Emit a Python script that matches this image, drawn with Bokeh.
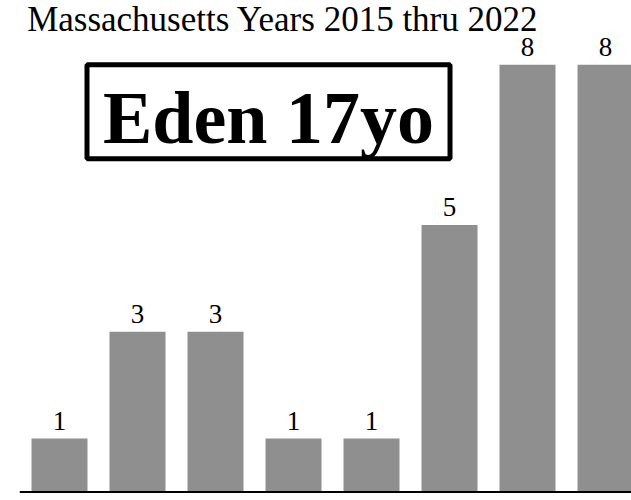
from bokeh.plotting import figure
from bokeh.models import Range1d, Span, Label, ColumnDataSource
from bokeh.core.properties import value
from bokeh.embed import file_html
from bokeh.resources import INLINE

years = ["2015", "2016", "2017", "2018", "2019", "2020", "2021", "2022"]
counts = [1, 3, 3, 1, 1, 5, 8, 8]
title_text = "Massachusetts Years 2015 thru 2022"
box_text = "Eden 17yo"

idx = list(range(len(years)))
src = ColumnDataSource(dict(x=idx, top=counts, lab=[str(c) for c in counts], year=years))

p = figure(width=631, height=500, output_backend="svg", toolbar_location=None,
           x_range=Range1d(-0.5128, 7.333), y_range=Range1d(-0.159, 9.204),
           min_border_left=19, min_border_right=0, min_border_top=0, min_border_bottom=0)
p.axis.visible = False
p.grid.visible = False
p.outline_line_color = None
p.background_fill_color = "white"

p.vbar(x="x", top="top", bottom=0, width=0.718, source=src,
       fill_color="#8f8f8f", line_color=None)

p.text(x="x", y="top", text="lab", source=src, text_align="center",
       text_baseline="alphabetic", y_offset=-18,
       text_font=value("Liberation Serif"), text_font_size="27px", text_color="black")

p.add_layout(Span(location=0, dimension="width", line_color="black", line_width=2))

p.add_layout(Label(x=-0.415, y=8.848, text=title_text, text_font="Liberation Serif",
                   text_font_size="35px", text_color="black", text_baseline="alphabetic"))

p.add_layout(Label(x=0.3526, y=7.119, text=box_text, text_font="Liberation Serif",
                   text_font_size="74px", text_font_style="bold", text_color="black",
                   text_baseline="alphabetic",
                   border_line_color="black", border_line_width=5,
                   background_fill_color="white",
                   padding=dict(left=16, right=16, top=12, bottom=0)))

open("out.html", "w").write(file_html(p, INLINE))
